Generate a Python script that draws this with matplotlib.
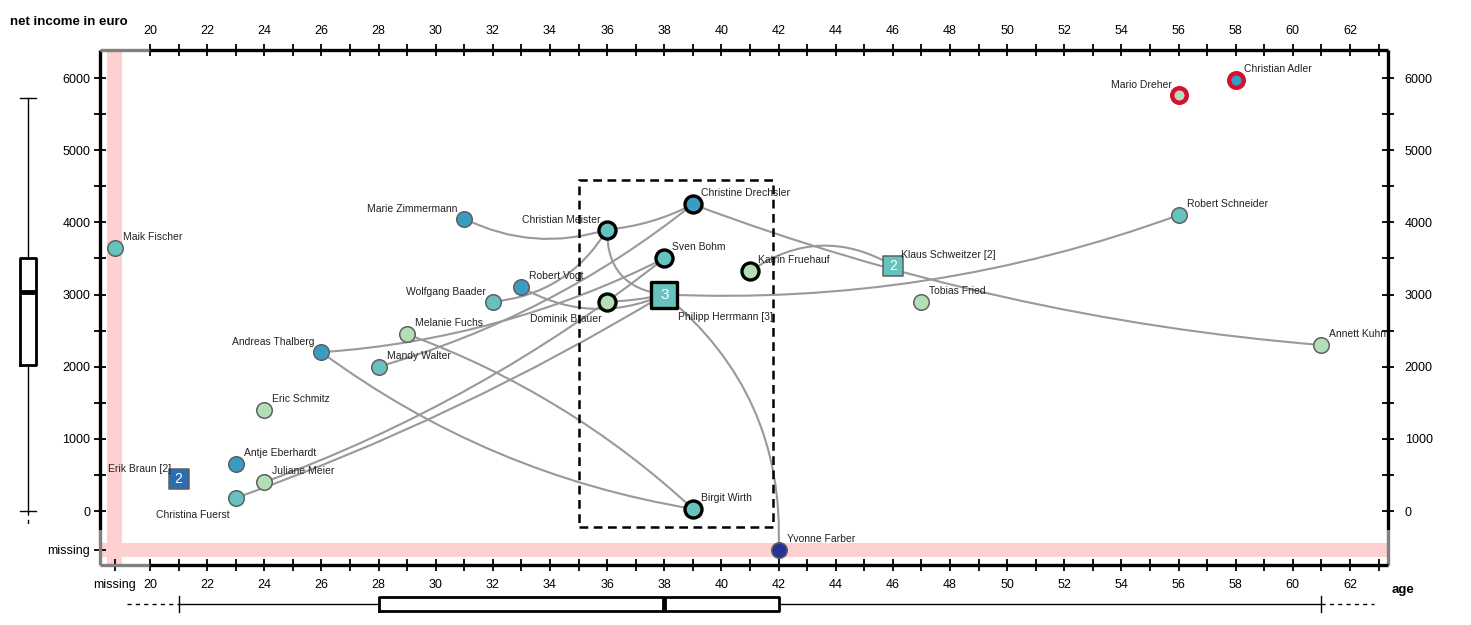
import matplotlib
matplotlib.use('Agg')
import matplotlib.pyplot as plt
from matplotlib.patches import FancyArrowPatch, Rectangle

plt.rcParams['font.family'] = ['Liberation Sans', 'DejaVu Sans']

# stand-in coordinates used for "missing" values
X_MISS = 18.76
Y_MISS = -540

names = ['Maik Fischer', 'Marie Zimmermann', 'Christian Meister', 'Christine Drechsler',
         'Sven Bohm', 'Katrin Fruehauf', 'Klaus Schweitzer [2]', 'Robert Schneider',
         'Tobias Fried', 'Annett Kuhn', 'Robert Vogt', 'Wolfgang Baader',
         'Dominik Brauer', 'Philipp Herrmann [3]', 'Melanie Fuchs', 'Andreas Thalberg',
         'Mandy Walter', 'Eric Schmitz', 'Antje Eberhardt', 'Erik Braun [2]',
         'Juliane Meier', 'Christina Fuerst', 'Birgit Wirth', 'Yvonne Farber',
         'Mario Dreher', 'Christian Adler']
ages = [None, 31, 36, 39, 38, 41, 46, 56, 47, 61, 33, 32, 36, 38, 29, 26, 28, 24, 23, 21,
        24, 23, 39, 42, 56, 58]
incomes = [3650, 4050, 3900, 4250, 3500, 3320, 3400, 4100, 2900, 2300, 3100, 2900, 2900,
           3000, 2450, 2200, 2000, 1400, 650, 450, 400, 180, 30, None, 5760, 5970]
groups = ['teal', 'blue', 'teal', 'blue', 'teal', 'light', 'teal', 'teal', 'light', 'light',
          'blue', 'teal', 'light', 'teal', 'light', 'blue', 'teal', 'light', 'blue', 'dark',
          'light', 'teal', 'teal', 'navy', 'light', 'blue']
counts = [1, 1, 1, 1, 1, 1, 2, 1, 1, 1, 1, 1, 1, 3, 1, 1, 1, 1, 1, 2, 1, 1, 1, 1, 1, 1]
states = ['n', 'n', 'sel', 'sel', 'sel', 'sel', 'n', 'n', 'n', 'n', 'n', 'n', 'sel', 'sel',
          'n', 'n', 'n', 'n', 'n', 'n', 'n', 'n', 'sel', 'n', 'flag', 'flag']

links = [('Marie Zimmermann', 'Christian Meister'),
         ('Christian Meister', 'Christine Drechsler'),
         ('Christine Drechsler', 'Annett Kuhn'),
         ('Christian Meister', 'Philipp Herrmann [3]'),
         ('Wolfgang Baader', 'Christian Meister'),
         ('Mandy Walter', 'Christine Drechsler'),
         ('Andreas Thalberg', 'Sven Bohm'),
         ('Juliane Meier', 'Sven Bohm'),
         ('Christina Fuerst', 'Philipp Herrmann [3]'),
         ('Dominik Brauer', 'Philipp Herrmann [3]'),
         ('Robert Vogt', 'Philipp Herrmann [3]'),
         ('Philipp Herrmann [3]', 'Robert Schneider'),
         ('Philipp Herrmann [3]', 'Yvonne Farber'),
         ('Katrin Fruehauf', 'Klaus Schweitzer [2]'),
         ('Melanie Fuchs', 'Birgit Wirth'),
         ('Andreas Thalberg', 'Birgit Wirth')]

# box plot summaries (whisker low, q1, median, q3, whisker high)
age_box = [21, 28, 38, 42, 61]
income_box = [0, 2020, 3030, 3500, 5720]

# ---- styles ----
colors = {'light': '#b2dfb8', 'teal': '#66c2bf', 'blue': '#3a9cc1',
          'dark': '#2c6cb0', 'navy': '#253494'}
link_bend = [0.2, 0.1, 0.07, 0.45, 0.25, 0.1, 0.1, 0.08, 0.05, 0.05, 0.25, 0.1,
             -0.25, -0.32, -0.1, 0.12]
label_side = ['ur', 'ul', 'ul', 'ur', 'ur', 'ur', 'ur', 'ur', 'ur', 'ur', 'ur', 'ul',
              'bl', 'br', 'ur', 'ul', 'ur', 'ur', 'ur', 'ul', 'ur', 'bl', 'ur', 'ur',
              'ul', 'ur']
offsets = {'ur': (8, 11, 'left'), 'ul': (-7, 10, 'right'), 'bl': (-6, -17, 'right'),
           'br': (14, -22, 'left')}

W, H = 1471, 625
fig = plt.figure(figsize=(W / 100, H / 100), dpi=100)
left, right, top, bottom = 100, 1388, 50, 565
ax = fig.add_axes([left / W, 1 - bottom / H, (right - left) / W, (bottom - top) / H])
xlim = (18.25, 63.33)
ylim = (-748, 6388)
ax.set_xlim(*xlim)
ax.set_ylim(*ylim)

xs = [X_MISS if a is None else a for a in ages]
ys = [Y_MISS if v is None else v for v in incomes]
pos = {n: (x, y) for n, x, y in zip(names, xs, ys)}

# missing bands
ax.axvspan(18.5, 19.03, color='#ffd0d0', zorder=0, lw=0)
ax.axhspan(-637, -443, color='#ffd0d0', zorder=0, lw=0)

# links
for (a, b), r in zip(links, link_bend):
    p = FancyArrowPatch(pos[a], pos[b], connectionstyle=f'arc3,rad={r}',
                        arrowstyle='-', color='#999999', lw=1.5,
                        shrinkA=0, shrinkB=0, zorder=2)
    ax.add_patch(p)

# selection rectangle
ax.add_patch(Rectangle((35, -220), 6.8, 4810, fill=False, ls=(0, (3.5, 2.2)),
                       lw=1.8, ec='black', zorder=3))

# points
for n, x, y, g, c, st, side in zip(names, xs, ys, groups, counts, states, label_side):
    if c == 1:
        mk = 'o'
        s = {'n': 125, 'sel': 150, 'flag': 110}[st]
    else:
        mk = 's'
        s = 220 if c == 2 else 340
    ec = {'n': '#5f5f5f', 'sel': 'black', 'flag': '#d7102f'}[st]
    lw = {'n': 1.1, 'sel': 2.4, 'flag': 3.2}[st]
    ax.scatter([x], [y], s=s, marker=mk, c=colors[g], edgecolors=ec, linewidths=lw,
               zorder=5, clip_on=False)
    if c > 1:
        ax.text(x, y, str(c), color='white', fontsize=10 if c == 2 else 11,
                ha='center', va='center', zorder=6)
    dx, dy, ha = offsets[side]
    ax.annotate(n, (x, y), xytext=(dx * 0.72, dy * 0.72), textcoords='offset points',
                fontsize=7.5, color='#222222', ha=ha, va='center', zorder=7)

# ticks
xt = list(range(20, 63, 2))
ax.set_xticks([X_MISS] + xt)
ax.set_xticklabels(['missing'] + [str(t) for t in xt])
ax.set_xticks(range(21, 64, 2), minor=True)
yt = list(range(0, 6001, 1000))
ax.set_yticks([Y_MISS] + yt)
ax.set_yticklabels(['missing'] + [str(t) for t in yt])
ax.set_yticks(range(500, 6000, 1000), minor=True)
ax.tick_params(which='both', direction='inout', length=8, width=1.3, labelsize=9)
ax.tick_params(axis='x', pad=6)
ax.tick_params(axis='y', pad=3)

secx = ax.secondary_xaxis('top')
secx.set_xticks(xt)
secx.set_xticks(range(21, 64, 2), minor=True)
secx.tick_params(which='both', direction='inout', length=8, width=1.3, labelsize=9, pad=5)
secy = ax.secondary_yaxis('right')
secy.set_yticks(yt)
secy.set_yticks(range(500, 6000, 1000), minor=True)
secy.tick_params(which='both', direction='inout', length=8, width=1.3, labelsize=9, pad=8)

for a in (ax, secx, secy):
    for sp in a.spines.values():
        sp.set_visible(False)

# custom spines: black for the value range, grey for the "missing" region
ytr = ax.get_yaxis_transform()
xtr = ax.get_xaxis_transform()
y_cut, x_cut = -263, 19.95
for xx in (0, 1):
    ax.plot([xx, xx], [y_cut, ylim[1]], transform=ytr, color='black', lw=2.4,
            clip_on=False, solid_capstyle='butt', zorder=8)
    ax.plot([xx, xx], [ylim[0], y_cut], transform=ytr, color='#808080', lw=2.4,
            clip_on=False, solid_capstyle='butt', zorder=8)
for yy in (0, 1):
    ax.plot([x_cut, xlim[1]], [yy, yy], transform=xtr, color='black', lw=2.4,
            clip_on=False, solid_capstyle='butt', zorder=8)
    ax.plot([xlim[0], x_cut], [yy, yy], transform=xtr, color='#808080', lw=2.4,
            clip_on=False, solid_capstyle='butt', zorder=8)

# vertical box plot (income)
axy = fig.add_axes([0, 1 - bottom / H, 60 / W, (bottom - top) / H])
axy.set_xlim(0, 60)
axy.set_ylim(*ylim)
axy.axis('off')
lo, q1, med, q3, hi = income_box
axy.bxp([{'whislo': lo, 'q1': q1, 'med': med, 'q3': q3, 'whishi': hi, 'fliers': []}],
        positions=[28], widths=16, capwidths=16, showfliers=False,
        boxprops=dict(lw=2, color='black'), medianprops=dict(lw=3.5, color='black'),
        whiskerprops=dict(lw=1, color='black'), capprops=dict(lw=1, color='black'))
axy.plot([28, 28], [lo, -190], color='black', lw=1, ls=(0, (3, 3)))

# horizontal box plot (age)
axx = fig.add_axes([left / W, 1 - 618 / H, (right - left) / W, 28 / H])
axx.set_xlim(*xlim)
axx.set_ylim(0, 28)
axx.axis('off')
lo, q1, med, q3, hi = age_box
axx.bxp([{'whislo': lo, 'q1': q1, 'med': med, 'q3': q3, 'whishi': hi, 'fliers': []}],
        positions=[14], widths=14, capwidths=16, showfliers=False, orientation='horizontal',
        boxprops=dict(lw=2, color='black'), medianprops=dict(lw=3.5, color='black'),
        whiskerprops=dict(lw=1, color='black'), capprops=dict(lw=1, color='black'))
axx.plot([19.2, lo], [14, 14], color='black', lw=1, ls=(0, (3, 3)))
axx.plot([hi, 62.85], [14, 14], color='black', lw=1, ls=(0, (3, 3)))

fig.text(10 / W, 1 - 22 / H, 'net income in euro', fontsize=9.5, fontweight='bold',
         va='center', ha='left')
fig.text(1392 / W, 1 - 590 / H, 'age', fontsize=9.5, fontweight='bold',
         va='center', ha='left')

fig.savefig('out.png', dpi=100)
